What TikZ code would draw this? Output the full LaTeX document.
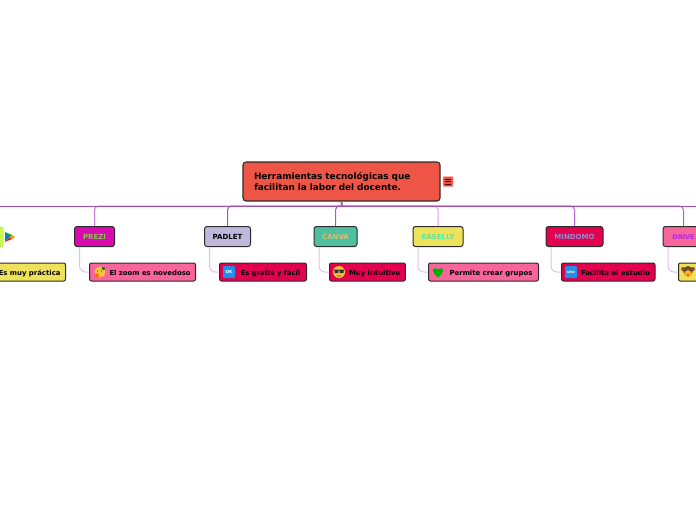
\documentclass[tikz,border=0pt]{standalone}
\usepackage{fontspec}
\setmainfont{DejaVu Sans}
\definecolor{rootred}{HTML}{EF5547}
\definecolor{rosepink}{HTML}{F7659A}
\definecolor{crimson}{HTML}{E3004F}
\definecolor{straw}{HTML}{EFE25B}
\definecolor{magentab}{HTML}{D90AB0}
\definecolor{lilac}{HTML}{BFB8DC}
\definecolor{teal}{HTML}{4FBF9F}
\definecolor{outline}{HTML}{2B2B2B}
\definecolor{lilacline}{HTML}{E2BEEE}
\definecolor{trunk}{HTML}{A14DB2}
\definecolor{smiley}{HTML}{F9C23C}
\definecolor{badgeblue}{HTML}{1E90E8}
\definecolor{prezitext}{HTML}{8CC152}
\definecolor{canvatext}{HTML}{E8B868}
\definecolor{easellytext}{HTML}{5CE6A0}
\definecolor{mindomotext}{HTML}{8F8FCF}
\definecolor{drivetext}{HTML}{B026F0}
\tikzset{
  topic/.style={draw=outline,line width=1pt,rounded corners=2.5pt,minimum height=20pt,inner sep=0pt,text height=6pt,text depth=0pt,font=\bfseries\fontsize{7}{8}\selectfont},
  leaf/.style={draw=outline,line width=1pt,rounded corners=2pt,minimum height=18pt,inner ysep=0pt,inner xsep=5pt,text height=7pt,text depth=0pt,font=\bfseries\fontsize{6.9}{8}\selectfont},
  link/.style={line width=1pt,rounded corners=4pt},
  sublink/.style={draw=lilacline,line width=1pt,rounded corners=6pt},
  badge/.style={fill=badgeblue,rounded corners=1.2pt,inner sep=0pt,minimum width=12pt,minimum height=12pt,text=white,font=\bfseries\fontsize{#1}{#1}\selectfont}
}
\begin{document}
\begin{tikzpicture}[x=1pt,y=-1pt]
  \useasboundingbox (0,0) rectangle (696,520);
  % root
  \node[draw=outline,line width=1.1pt,rounded corners=3pt,fill=rootred,minimum width=197pt,minimum height=39pt,inner xsep=11pt,inner ysep=0pt,text width=175pt,align=left,font=\bfseries\fontsize{8.9}{11}\selectfont] (root) at (341.5,181.5) {Herramientas tecnológicas que\\facilitan la labor del docente.};
  \node[draw=rootred!60!white,fill=rootred,rounded corners=1pt,minimum width=10pt,minimum height=10pt,inner sep=0pt] (menu) at (448,181.5) {};
  \draw[line width=.9pt,draw=black!80!red] (445,179) -- (451,179) (445,181.5) -- (451,181.5) (445,184) -- (451,184);
  % topics
  \node[topic,fill=green!30!yellow!70!white,draw=yellow!70!green!70!white,minimum width=40pt] (playtopic) at (-17,237) {};
  \node[topic,fill=magentab,text=prezitext,minimum width=40pt] (prezi) at (94.5,236.5) {PREZI};
  \node[topic,fill=lilac,minimum width=46pt] (padlet) at (227.5,236.5) {PADLET};
  \node[topic,fill=teal,text=canvatext,minimum width=43pt] (canva) at (335.5,236.5) {CANVA};
  \node[topic,fill=straw,text=easellytext,minimum width=50pt] (easelly) at (438,236.5) {EASELLY};
  \node[topic,fill=crimson,text=mindomotext,minimum width=57pt] (mindomo) at (574.5,236.5) {MINDOMO};
  \node[topic,fill=rosepink,text=drivetext,minimum width=41pt,font=\bfseries\fontsize{6.5}{8}\selectfont] (drive) at (683.5,236.5) {DRIVE};
  \coordinate (stem) at (342,206);
  \coordinate (farleft) at (-5,206);
  \coordinate (farright) at (701,206);
  % links
  \foreach \name/\col in {prezi/C77FDB,padlet/9B59A8,canva/A05CC0,easelly/E29CF0,mindomo/C060D8,drive/A868CC}{
    \definecolor{linkcol}{HTML}{\col}
    \draw[link,draw=linkcol] (stem) -| (\name.north);
  }
  \draw[link,draw=trunk] (farleft) -- (farright);
  \draw[line width=1.8pt,draw=trunk] (root.south) -- (stem);
  % leaves
  \node[leaf,fill=straw,anchor=east] (lplay) at (66,272) {\hspace{14pt}Es muy práctica};
  \node[leaf,fill=rosepink,anchor=west] (lprezi) at (89,272) {\hspace{15pt}El zoom es novedoso};
  \node[leaf,fill=crimson,anchor=west,minimum width=87pt] (lpadlet) at (219,272) {\hspace{15pt}Es gratis y fácil};
  \node[leaf,fill=crimson,anchor=west] (lcanva) at (329,272) {\hspace{14.5pt}Muy intuitivo};
  \node[leaf,fill=rosepink,anchor=west,minimum width=110pt] (leasel) at (428,272) {\hspace{15pt}Permite crear grupos};
  \node[leaf,fill=crimson,anchor=west] (lmind) at (561,272) {\hspace{14.5pt}Facilita el estudio};
  \node[leaf,fill=straw,anchor=west,minimum width=40pt] (ldrive) at (678,272) {};
  \foreach \name/\leafname in {prezi/lprezi,padlet/lpadlet,canva/lcanva,easelly/leasel,mindomo/lmind,drive/ldrive}{
    \draw[sublink] ([xshift=5.5pt]\name.south west) |- (\leafname.west);
  }
  % icons
  \node[badge=4.2] (okbadge) at ([xshift=10pt]lpadlet.west) {OK};
  \node[badge=3] (newbadge) at ([xshift=10pt]lmind.west) {NEW};
  \begin{scope}[shift={([xshift=11pt]lprezi.west)}]
    \fill[smiley] (0,0) circle (5.5);
    \fill[orange!80!red] (-3,3.5) circle (2);
    \fill[black!60!green] (2,-5) -- (5,-4) -- (4,-2) -- (2,-3) -- cycle;
    \fill[black!70] (-2.5,-1) circle (.7) (1.5,-1) circle (.7);
  \end{scope}
  \begin{scope}[shift={([xshift=10pt]lcanva.west)}]
    \fill[smiley] (0,0) circle (6);
    \fill[black!80] (-5,-2.5) rectangle (5,-1.5) (-4.5,-2) rectangle (-.7,1) (.7,-2) rectangle (4.5,1);
    \draw[black!70,line width=.6pt] (-2,3.5) .. controls (-1,4.5) and (1,4.5) .. (2,3.5);
  \end{scope}
  \begin{scope}[shift={([xshift=10pt]leasel.west)}]
    \fill[green!70!black] (0,5.5) .. controls (-8,-.5) and (-5,-6.5) .. (0,-2.5) .. controls (5,-6.5) and (8,-.5) .. (0,5.5) -- cycle;
  \end{scope}
  \begin{scope}[shift={([xshift=10pt]ldrive.west)}]
    \fill[brown!70!black] (-5,-3) circle (2) (5,-3) circle (2);
    \fill[black!40!brown] (0,-1) circle (5);
    \fill[smiley!70!orange] (0,1.5) circle (3.8);
    \fill[black!80] (-2,-1.5) circle (.9) (2,-1.5) circle (.9);
    \fill[orange!80!red] (0,3) circle (1.4);
  \end{scope}
  % play icon
  \fill[cyan!60!blue] (5,232) -- (10,237) -- (5,242) -- cycle;
  \fill[green!70!black] (5,232) -- (12,235) -- (10,237) -- cycle;
  \fill[red!80!orange] (5,242) -- (12,239) -- (10,237) -- cycle;
  \fill[orange!80!yellow] (12,235) -- (15,237) -- (12,239) -- (10,237) -- cycle;
\end{tikzpicture}
\end{document}
